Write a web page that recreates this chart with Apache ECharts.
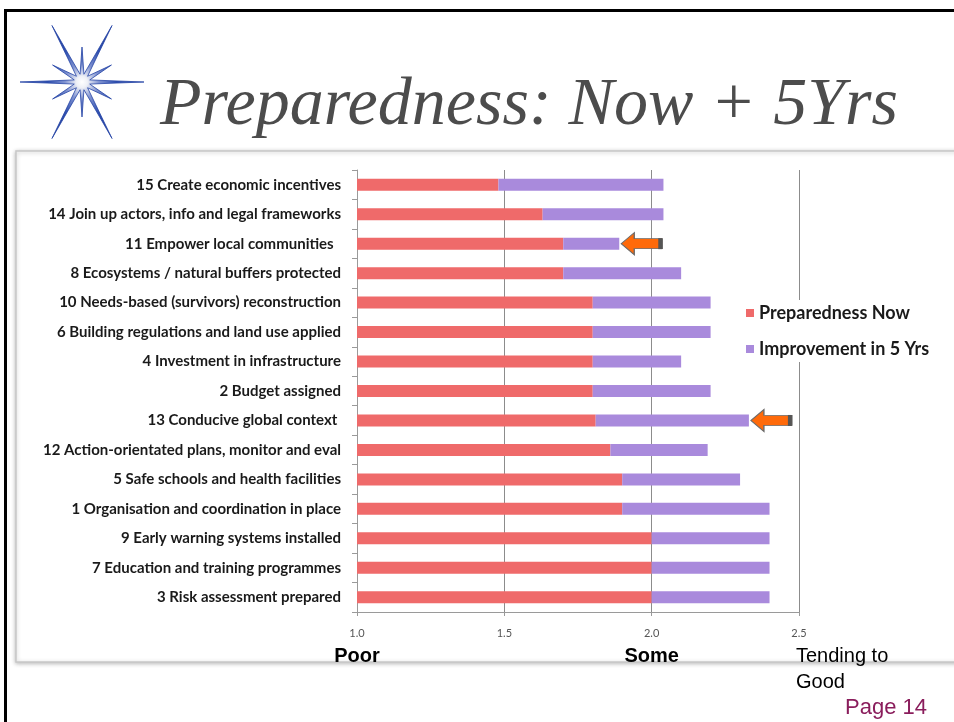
<!DOCTYPE html>
<html>
<head>
<meta charset="utf-8">
<script src="https://cdn.jsdelivr.net/npm/echarts@6/dist/echarts.min.js"></script>
<style>
  html, body { margin: 0; padding: 0; background: #ffffff; }
  #chart { width: 954px; height: 722px; }
</style>
</head>
<body>
<div id="chart"></div>
<script>
// Priority actions, listed top to bottom as they appear on the slide
const categories = [
  '15 Create economic incentives',
  '14 Join up actors, info and legal frameworks',
  '11 Empower local communities  ',
  '8 Ecosystems / natural buffers protected',
  '10 Needs-based (survivors) reconstruction',
  '6 Building regulations and land use applied',
  '4 Investment in infrastructure',
  '2 Budget assigned',
  '13 Conducive global context ',
  '12 Action-orientated plans, monitor and eval',
  '5 Safe schools and health facilities',
  '1 Organisation and coordination in place',
  '9 Early warning systems installed',
  '7 Education and training programmes',
  '3 Risk assessment prepared'
];

// Average score today (1 = poor, 2 = some, 2.5+ = tending to good)
const preparednessNow = [1.48, 1.63, 1.70, 1.70, 1.80, 1.80, 1.80, 1.80, 1.81, 1.86, 1.90, 1.90, 2.00, 2.00, 2.00];
// Expected gain over the next five years
const improvement5Yrs = [0.56, 0.41, 0.19, 0.40, 0.40, 0.40, 0.30, 0.40, 0.52, 0.33, 0.40, 0.50, 0.40, 0.40, 0.40];

const seriesNames = ['Preparedness Now', 'Improvement in 5 Yrs'];
const scaleTicks = [1.0, 1.5, 2.0, 2.5];
const scaleWords = [
  { value: 1.0, text: 'Poor', bold: true, align: 'center' },
  { value: 2.0, text: 'Some', bold: true, align: 'center' },
  { value: 2.5, text: 'Tending to\nGood', bold: false, align: 'left' }
];
// Actions flagged with an arrow
const flagged = ['11 Empower local communities  ', '13 Conducive global context '];

const slideTitle = 'Preparedness: Now + 5Yrs';
const pageLabel = 'Page 14';

const RED = '#ef6a6a';
const PURPLE = '#a98adc';
const ARROW = '#ff6a0a';

// Twelve-pointed sparkle used as the slide's emblem
function starPoints(cx, cy) {
  const spikes = [
    [0, 62], [30, 34], [62, 64], [90, 35], [118, 64], [150, 34],
    [180, 62], [210, 34], [242, 64], [270, 35], [298, 64], [330, 34]
  ];
  const pts = [];
  spikes.forEach(function (s, k) {
    const a = s[0] * Math.PI / 180;
    const nextAngle = k + 1 < spikes.length ? spikes[k + 1][0] : 360;
    const b = ((s[0] + nextAngle) / 2) * Math.PI / 180;
    pts.push([cx + Math.cos(a) * s[1], cy - Math.sin(a) * s[1]]);
    pts.push([cx + Math.cos(b) * 8, cy - Math.sin(b) * 8]);
  });
  return pts;
}

const chart = echarts.init(document.getElementById('chart'), null, { renderer: 'canvas' });

const arrowPath = 'path://M0 11 L13 0 L13 6 L41 6 L41 16 L13 16 L13 22 Z';

const flagPoints = flagged.map(function (name) {
  const i = categories.indexOf(name);
  return { coord: [preparednessNow[i] + improvement5Yrs[i], name] };
});

const option = {
  backgroundColor: '#ffffff',
  animation: false,
  textStyle: { fontFamily: 'Lato, "Open Sans", sans-serif' },
  grid: { left: 357, top: 170, width: 442, height: 442, containLabel: false },
  legend: {
    data: seriesNames,
    orient: 'vertical',
    left: 742,
    top: 300,
    itemWidth: 8,
    itemHeight: 8,
    itemGap: 18,
    icon: 'rect',
    backgroundColor: '#ffffff',
    padding: [4, 4, 4, 4],
    textStyle: { fontFamily: 'Lato, sans-serif', fontWeight: 'bold', fontSize: 18, color: '#1a1a1a', padding: [0, 0, 0, 0] }
  },
  xAxis: {
    type: 'value',
    min: 1,
    max: 2.5,
    interval: 0.5,
    axisLine: { show: true, lineStyle: { color: '#9a9a9a', width: 1 } },
    axisTick: { show: true, length: 4, lineStyle: { color: '#9a9a9a' } },
    axisLabel: {
      margin: 16,
      fontSize: 11,
      color: '#555555',
      fontFamily: 'Lato, sans-serif',
      formatter: function (v) { return scaleTicks.indexOf(v) >= 0 ? v.toFixed(1) : ''; }
    },
    splitLine: { show: true, lineStyle: { color: '#8c8c8c', width: 1 } }
  },
  yAxis: {
    type: 'category',
    data: categories,
    inverse: true,
    axisLine: { show: true, lineStyle: { color: '#9a9a9a', width: 1 } },
    axisTick: { show: true, length: 5, lineStyle: { color: '#9a9a9a' } },
    axisLabel: {
      margin: 16,
      fontSize: 15,
      fontWeight: 'bold',
      color: '#1a1a1a',
      fontFamily: 'Lato, sans-serif'
    }
  },
  series: [
    {
      name: seriesNames[0],
      type: 'bar',
      stack: 'score',
      barWidth: 12,
      clip: true,
      itemStyle: { color: RED },
      data: preparednessNow
    },
    {
      name: seriesNames[1],
      type: 'bar',
      stack: 'score',
      barWidth: 12,
      clip: true,
      itemStyle: { color: PURPLE },
      data: improvement5Yrs,
      markPoint: {
        silent: true,
        label: { show: false },
        data: flagPoints.map(function (p) {
          return {
            coord: p.coord,
            symbol: arrowPath,
            symbolSize: [41, 22],
            symbolKeepAspect: false,
            symbolOffset: [22.5, 0],
            itemStyle: { color: ARROW, borderColor: '#6a6a6a', borderWidth: 1 }
          };
        }).concat(flagPoints.map(function (p) {
          return {
            coord: p.coord,
            symbol: 'rect',
            symbolSize: [4, 11],
            symbolOffset: [41, 0],
            itemStyle: { color: '#555555' }
          };
        }))
      }
    }
  ],
  graphic: []
};

chart.setOption(option);

// Slide decoration and captions that sit outside the plot
const graphics = [
  // chart panel with soft shadow
  {
    type: 'rect', z: -20, silent: true,
    shape: { x: 16, y: 151, width: 960, height: 511 },
    style: { fill: '#ffffff', stroke: '#c8c8c8', lineWidth: 1.5, shadowBlur: 4, shadowColor: 'rgba(0,0,0,0.25)', shadowOffsetY: 1 }
  },
  // slide border
  { type: 'rect', z: 50, silent: true, shape: { x: 4, y: 9, width: 954, height: 3 }, style: { fill: '#000000' } },
  { type: 'rect', z: 50, silent: true, shape: { x: 4, y: 9, width: 3, height: 720 }, style: { fill: '#000000' } },
  // emblem
  {
    type: 'polygon', z: 10, silent: true,
    shape: { points: starPoints(82, 82) },
    style: {
      fill: {
        type: 'radial', x: 0.5, y: 0.5, r: 0.5,
        colorStops: [
          { offset: 0, color: '#ffffff' },
          { offset: 0.1, color: '#eef0f6' },
          { offset: 0.3, color: '#7f92d0' },
          { offset: 0.6, color: '#3050b0' },
          { offset: 1, color: '#1a3696' }
        ]
      },
      stroke: '#2444a6', lineWidth: 0.8
    }
  },
  // title
  {
    type: 'text', z: 10, silent: true,
    style: {
      x: 160, y: 140, text: slideTitle,
      font: 'italic 68px "Liberation Serif", serif',
      fill: '#4c4c4c', textVerticalAlign: 'bottom'
    }
  },
  // page number
  {
    type: 'text', z: 10, silent: true,
    style: { x: 845, y: 708, text: pageLabel, font: '22px "Liberation Sans", Arial, sans-serif', fill: '#8a1d5c', textVerticalAlign: 'middle' }
  }
];

scaleWords.forEach(function (w) {
  const px = chart.convertToPixel({ xAxisIndex: 0 }, w.value);
  graphics.push({
    type: 'text', z: 10, silent: true,
    style: {
      x: w.align === 'left' ? px - 3 : px,
      y: 643,
      text: w.text,
      font: (w.bold ? 'bold ' : '') + '20px "Liberation Sans", Arial, sans-serif',
      fill: '#000000',
      textAlign: w.align,
      textVerticalAlign: 'top',
      lineHeight: 26
    }
  });
});

chart.setOption({ graphic: graphics });
</script>
</body>
</html>
